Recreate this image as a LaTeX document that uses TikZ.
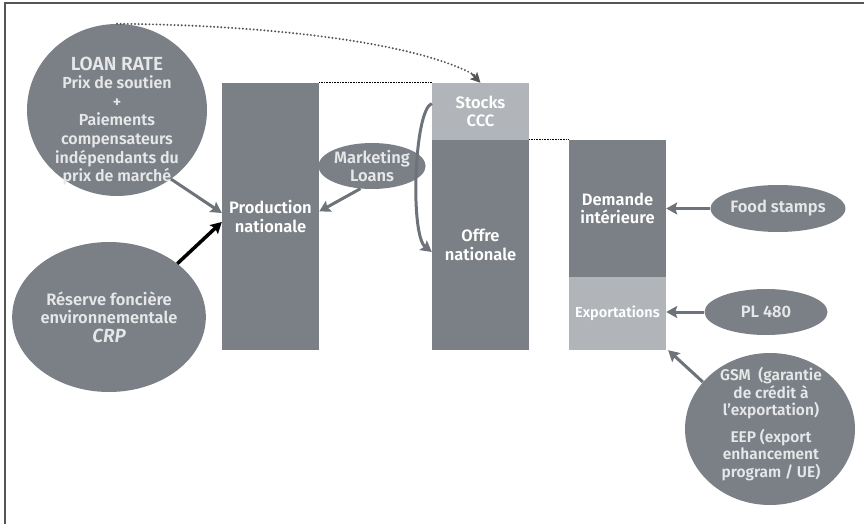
\documentclass[tikz,border=0pt]{standalone}
\usepackage{fontspec}
\setmainfont{Fira Sans}[BoldFont={Fira Sans SemiBold},BoldItalicFont={Fira Sans SemiBold Italic}]
\usetikzlibrary{shapes.geometric,arrows.meta}
\definecolor{dk}{HTML}{7B8087}
\definecolor{lt}{HTML}{B1B4B9}
\definecolor{arrc}{HTML}{6E737A}
\definecolor{ctext}{HTML}{E6E7E8}
\definecolor{framec}{HTML}{555555}
\begin{document}
\begin{tikzpicture}[x=1pt,y=-1pt,
  bar/.style={rectangle, inner sep=0pt, align=center, text=white,
    font=\bfseries\fontsize{16.5}{18.5}\selectfont},
  blob/.style={ellipse, fill=dk, inner sep=0pt, align=center, text=ctext,
    font=\bfseries\fontsize{16.5}{18.5}\selectfont},
  words/.style={align=center, text=ctext, inner sep=0pt,
    font=\bfseries\fontsize{16}{18.6}\selectfont},
  flow/.style={draw=arrc, line width=3pt,
    -{Stealth[length=11pt,width=12pt,inset=2pt]}},
  guide/.style={draw=black, line width=0.8pt, dash pattern=on 0.8pt off 0.8pt}]
\useasboundingbox (0,0) rectangle (864,524);
\clip (0,0) rectangle (864,524);

% frame
\draw[framec, line width=2pt] (4.5,540) -- (4.5,3.5) -- (880,3.5);

% columns
\node[bar, fill=dk, minimum width=97pt, minimum height=267pt] (prod) at (270.5,216.5) {Production\\nationale};
\node[bar, fill=lt, minimum width=97pt, minimum height=57pt] (stocks) at (480.5,111.5) {Stocks\\CCC};
\node[bar, fill=dk, minimum width=97pt, minimum height=210pt] (offre) at (480.5,245) {Offre\\nationale};
\node[bar, fill=dk, minimum width=97pt, minimum height=137pt] (dem) at (617.5,208.5) {Demande\\intérieure};
\node[bar, fill=lt, minimum width=97pt, minimum height=73pt,
  font=\bfseries\fontsize{14.5}{16}\selectfont] (exp) at (617.5,313.5) {Exportations};

% level guides
\draw[guide] (prod.north east) -- (stocks.north west);
\draw[guide] (offre.north east) -- (dem.north west);

% policy instruments
\node[blob, minimum width=180pt, minimum height=172pt] (loan) at (117,110) {};
\node[words] (loantext) at (117,121) {{\fontsize{19}{18.6}\selectfont LOAN RATE}\\Prix de soutien\\+\\Paiements\\compensateurs\\indépendants du\\prix de marché};

\node[blob, minimum width=164pt, minimum height=150pt] (crp) at (109,317)
  {Réserve foncière\\environnementale\\{\fontsize{19}{22}\selectfont\itshape CRP}};

\node[blob, minimum width=90pt, minimum height=46pt] (mkt) at (372,166) {Marketing\\Loans};

\node[blob, minimum width=133pt, minimum height=47pt] (food) at (778,208.5) {Food stamps};
\node[blob, minimum width=123pt, minimum height=46pt] (pl) at (766,312) {PL 480};

\node[blob, minimum width=170pt, minimum height=152pt] (gsm) at (770,429) {};
\node[words, font=\bfseries\fontsize{15.5}{17.5}\selectfont] (gsmtext) at (771,424)
  {GSM\ \ (garantie\\de crédit à\\l’exportation)\\[9pt]EEP (export\\enhancement\\program / UE)};

% connectors
\draw[flow] (loan.-52) -- ([yshift=3.5pt]prod.west);
\draw[draw=black, line width=3.5pt, -{Stealth[length=11pt,width=12pt,inset=2pt]}]
  (crp.38) -- ([yshift=-5.5pt]prod.west);
\draw[flow] (mkt.-117) -- ([yshift=5pt]prod.east);
\draw[flow] ([yshift=8pt]stocks.west) .. controls (414,110) and (410,235) .. ([yshift=-7pt]offre.west);
\draw[flow] (food.west) -- (dem.east);
\draw[flow] (pl.west) -- ([yshift=1.5pt]exp.east);
\draw[flow] (gsm.145) -- ([xshift=2pt]exp.south east);

\draw[draw=framec, line width=2.2pt, line cap=round, dash pattern=on 0pt off 3.6pt]
  (loan.north) .. controls (280,25) and (430,45) .. ([yshift=4pt]stocks.north);
\draw[draw=framec, line width=2pt, -{Stealth[length=10pt,width=10pt,inset=2pt]}]
  (472,74) -- (stocks.north);
\end{tikzpicture}
\end{document}
